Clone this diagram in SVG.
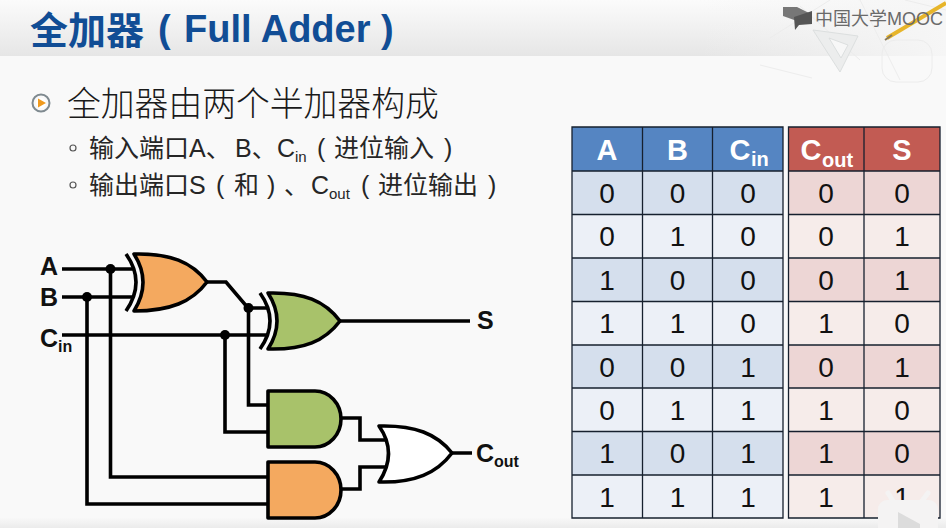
<svg xmlns="http://www.w3.org/2000/svg" width="946" height="528" viewBox="0 0 946 528">
<style>
.cjk{font-family:"Liberation Sans","Noto Sans CJK SC",sans-serif}
.t{font-size:25px;fill:#262626}
.sub{font-size:15px;fill:#262626}
.lab{font-family:"Liberation Sans",sans-serif;font-weight:700;font-size:25px;fill:#111}
.labs{font-family:"Liberation Sans",sans-serif;font-weight:700;font-size:16px;fill:#111}
.w{fill:none;stroke:#000;stroke-width:3.600;stroke-linejoin:miter}
.g{stroke:#000;stroke-width:3.600;stroke-linejoin:round}
.d{fill:#000}
.h{font-family:"Liberation Sans",sans-serif;font-weight:700;font-size:29px;fill:#fff;text-anchor:middle}
.hs{font-family:"Liberation Sans",sans-serif;font-weight:700;font-size:20px;fill:#fff}
.n{font-family:"Liberation Sans",sans-serif;font-size:28px;fill:#111;text-anchor:middle}
.bl{stroke:#16202e;stroke-width:1.300;fill:none}
.ti{font-family:"Liberation Sans",sans-serif;font-weight:700;font-size:38px;fill:#114d95}
</style>
<defs>
<linearGradient id="band" x1="0" y1="0" x2="0" y2="1"><stop offset="0" stop-color="#fbfbfb"/><stop offset="1" stop-color="#e6e6e6"/></linearGradient>
<linearGradient id="foot" x1="0" y1="0" x2="0" y2="1"><stop offset="0" stop-color="#f8f8f8"/><stop offset="1" stop-color="#ebebeb"/></linearGradient>
<linearGradient id="fade" x1="0" y1="0" x2="1" y2="0"><stop offset="0" stop-color="#f4f4f4" stop-opacity="0"/><stop offset="1" stop-color="#f6f6f6"/></linearGradient>
</defs>
<rect width="946" height="528" fill="#f9f9f9"/>
<rect width="946" height="56" fill="url(#band)"/>
<rect x="700" width="246" height="56" fill="url(#fade)"/>
<rect y="518" width="946" height="10" fill="url(#foot)"/>

<g id="watermark">
<g fill="none" stroke="#ececec" stroke-width="1">
<path d="M770 38 L830 0 M760 65 L812 78 M800 6 L860 60 M860 0 L900 80 M905 0 L946 10"/>
<rect x="882" y="40" width="50" height="42" rx="14"/>
</g>
<path d="M813 30 L840 72 L858 36 Z" fill="#eceded" stroke="#dcdfdf"/>
<path d="M829 38 L841 58 L848 45 Z" fill="#f7f7f7" stroke="#dcdfdf"/>
<path d="M887 38 L946 3" stroke="#e7b52a" stroke-width="4"/>
<path d="M885 40 L892 35" stroke="#8a7a5a" stroke-width="2"/>
<path d="M783 7 L797 7 L811 14 L797 21 L783 16 Z" fill="#777"/>
<path d="M794 17 L812 11 L812 24 L799 25 L795 30 Z" fill="#555"/>
<text x="815" y="25" class="cjk" font-size="18" fill="#6a6a6a">中国大学MOOC</text>
</g>

<g id="title">
<text x="30" y="44" font-family="'Noto Sans CJK SC',sans-serif" font-weight="700" font-size="38" fill="#114d95">全加器</text>
<text x="158" y="42" class="ti">(</text>
<text x="184" y="42" class="ti">Full Adder</text>
<text x="381" y="42" class="ti">)</text>
</g>

<g id="bullets">
<circle cx="41" cy="103" r="8.500" fill="none" stroke="#7f8a90" stroke-width="2"/>
<circle cx="41" cy="103" r="5" fill="#fff"/>
<path d="M38 98.500 L46 103 L38 107.500 Z" fill="#f09a1e"/>
<text x="67" y="116" font-family="'Noto Sans CJK SC',sans-serif" font-weight="300" font-size="33.800" fill="#1a1a1a">全加器由两个半加器构成</text>
<circle cx="73" cy="148" r="3" fill="none" stroke="#555" stroke-width="1.200"/>
<circle cx="73" cy="185" r="3" fill="none" stroke="#555" stroke-width="1.200"/>
<text x="89" y="157" class="cjk t">输入端口A、</text>
<text x="235" y="157" class="cjk t">B、</text>
<text x="277" y="157" class="cjk t">C</text>
<text x="295" y="162" class="cjk sub">in</text>
<text x="317" y="157" class="cjk t">(</text>
<text x="334" y="157" class="cjk t">进位输入</text>
<text x="444" y="157" class="cjk t">)</text>
<text x="89" y="194" class="cjk t">输出端口S</text>
<text x="216" y="194" class="cjk t">(</text>
<text x="234" y="194" class="cjk t">和</text>
<text x="267" y="194" class="cjk t">)</text>
<text x="284" y="194" class="cjk t">、</text>
<text x="311" y="194" class="cjk t">C</text>
<text x="329" y="199" class="cjk sub">out</text>
<text x="361" y="194" class="cjk t">(</text>
<text x="378" y="194" class="cjk t">进位输出</text>
<text x="488" y="194" class="cjk t">)</text>
</g>

<g id="connectors">
<path class="w" d="M62 269H134M62 297H134M62 335H268"/>
<path class="w" d="M110.500 269V477H268M87 297V504H268"/>
<path class="w" d="M207 282H226L248 308H268M248.500 308V405H268M225 335V432H268"/>
<path class="w" d="M340 321H470M341 418H360V440H385M341 489H360V467H385M452 453H472"/>
<circle class="d" cx="110.500" cy="269" r="5"/>
<circle class="d" cx="87" cy="297" r="5"/>
<circle class="d" cx="225" cy="335" r="5"/>
<circle class="d" cx="248.500" cy="308" r="5"/>
</g>

<g id="xor1">
<path class="w" d="M126 254Q146 282 126 311"/>
<path class="g" fill="#f4a95f" d="M134 254C170 253 192 262 207 282C192 302 170 311 134 311Q152 282 134 254Z"/>
</g>
<g id="xor2">
<path class="w" d="M260 293Q280 321 260 349"/>
<path class="g" fill="#a8c26a" d="M268 293C304 292 325 301 340 321C325 341 304 350 268 349Q286 321 268 293Z"/>
</g>
<g id="and1">
<path class="g" fill="#a8c26a" d="M268 391H315A26 28 0 0 1 315 447H268Z"/>
</g>
<g id="and2">
<path class="g" fill="#f4a95f" d="M268 462H315A26 28 0 0 1 315 518H268Z"/>
</g>
<g id="or1">
<path class="g" fill="#fff" d="M379 426C415 425 437 434 452 453C437 473 415 483 379 482Q398 453 379 426Z"/>
</g>

<g id="labels">
<text class="lab" x="40" y="275">A</text>
<text class="lab" x="40" y="306">B</text>
<text class="lab" x="40" y="347">C</text>
<text class="labs" x="58" y="352">in</text>
<text class="lab" x="477" y="329">S</text>
<text class="lab" x="476" y="462">C</text>
<text class="labs" x="494" y="467">out</text>
</g>

<g id="truth-in">
<rect x="572" y="127" width="211" height="44" fill="#5585c2"/>
<rect x="572" y="171" width="211" height="43.500" fill="#d5dfed"/>
<rect x="572" y="214.500" width="211" height="43.500" fill="#ecf0f7"/>
<rect x="572" y="258" width="211" height="43.500" fill="#d5dfed"/>
<rect x="572" y="301.500" width="211" height="43.500" fill="#ecf0f7"/>
<rect x="572" y="345" width="211" height="43" fill="#d5dfed"/>
<rect x="572" y="388" width="211" height="43.500" fill="#ecf0f7"/>
<rect x="572" y="431.500" width="211" height="43.500" fill="#d5dfed"/>
<rect x="572" y="475" width="211" height="43" fill="#ecf0f7"/>
<path class="bl" d="M572 127H783V518H572ZM642.500 127V518M712.500 127V518M572 171H783M572 214.500H783M572 258H783M572 301.500H783M572 345H783M572 388H783M572 431.500H783M572 475H783"/>
<text class="h" x="607" y="160">A</text><text class="h" x="677.500" y="160">B</text><text class="h" x="740" y="160">C</text><text class="hs" x="751" y="166">in</text>
</g>
<g id="truth-out">
<rect x="788.500" y="127" width="151.500" height="44" fill="#c25b53"/>
<rect x="788.500" y="171" width="151.500" height="43.500" fill="#edd6d5"/>
<rect x="788.500" y="214.500" width="151.500" height="43.500" fill="#f6ecea"/>
<rect x="788.500" y="258" width="151.500" height="43.500" fill="#edd6d5"/>
<rect x="788.500" y="301.500" width="151.500" height="43.500" fill="#f6ecea"/>
<rect x="788.500" y="345" width="151.500" height="43" fill="#edd6d5"/>
<rect x="788.500" y="388" width="151.500" height="43.500" fill="#f6ecea"/>
<rect x="788.500" y="431.500" width="151.500" height="43.500" fill="#edd6d5"/>
<rect x="788.500" y="475" width="151.500" height="43" fill="#f6ecea"/>
<path class="bl" d="M788.500 127H940V518H788.500ZM864 127V518M788.500 171H940M788.500 214.500H940M788.500 258H940M788.500 301.500H940M788.500 345H940M788.500 388H940M788.500 431.500H940M788.500 475H940"/>
<text class="h" x="811" y="160">C</text><text class="hs" x="822" y="167">out</text><text class="h" x="902" y="160">S</text>
</g>
<g id="truth-values">
<text class="n" x="607" y="203">0</text><text class="n" x="677.500" y="203">0</text><text class="n" x="748" y="203">0</text><text class="n" x="826" y="203">0</text><text class="n" x="902" y="203">0</text>
<text class="n" x="607" y="246">0</text><text class="n" x="677.500" y="246">1</text><text class="n" x="748" y="246">0</text><text class="n" x="826" y="246">0</text><text class="n" x="902" y="246">1</text>
<text class="n" x="607" y="290">1</text><text class="n" x="677.500" y="290">0</text><text class="n" x="748" y="290">0</text><text class="n" x="826" y="290">0</text><text class="n" x="902" y="290">1</text>
<text class="n" x="607" y="333">1</text><text class="n" x="677.500" y="333">1</text><text class="n" x="748" y="333">0</text><text class="n" x="826" y="333">1</text><text class="n" x="902" y="333">0</text>
<text class="n" x="607" y="377">0</text><text class="n" x="677.500" y="377">0</text><text class="n" x="748" y="377">1</text><text class="n" x="826" y="377">0</text><text class="n" x="902" y="377">1</text>
<text class="n" x="607" y="420">0</text><text class="n" x="677.500" y="420">1</text><text class="n" x="748" y="420">1</text><text class="n" x="826" y="420">1</text><text class="n" x="902" y="420">0</text>
<text class="n" x="607" y="463">1</text><text class="n" x="677.500" y="463">0</text><text class="n" x="748" y="463">1</text><text class="n" x="826" y="463">1</text><text class="n" x="902" y="463">0</text>
<text class="n" x="607" y="507">1</text><text class="n" x="677.500" y="507">1</text><text class="n" x="748" y="507">1</text><text class="n" x="826" y="507">1</text><text class="n" x="902" y="507">1</text>
</g>
<g id="corner-icon">
<rect x="878" y="500" width="60" height="40" rx="9" fill="#f4f3f3"/>
<path d="M893 501L888 493M922 501L928 493" stroke="#f4f3f3" stroke-width="5" stroke-linecap="round"/>
<path d="M898 512L920 524V528H898Z" fill="#dcdcdc"/>
</g>
</svg>
